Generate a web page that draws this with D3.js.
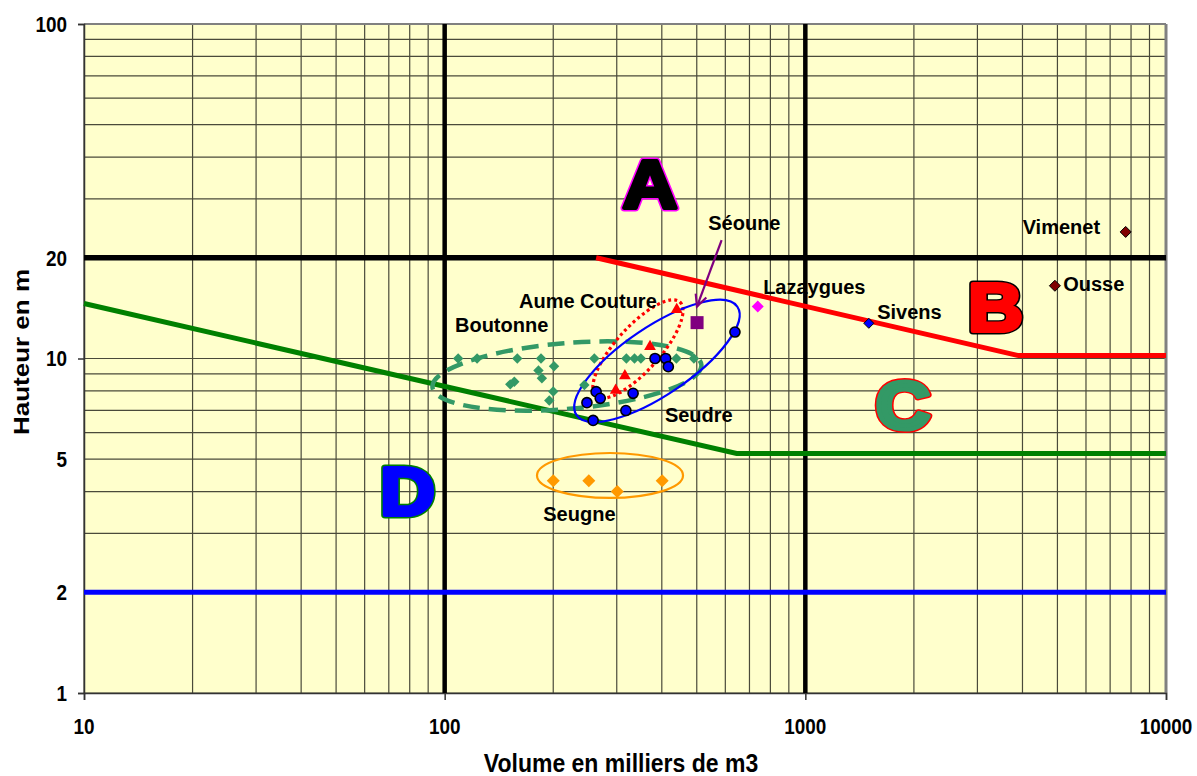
<!DOCTYPE html>
<html><head><meta charset="utf-8">
<script src="https://cdn.jsdelivr.net/npm/d3@7"></script>
<style>
body{margin:0;background:#fff;}
svg text{font-family:"Liberation Sans",Arial,sans-serif;font-weight:bold;fill:#000;}
</style></head><body>
<svg id="chart" width="1197" height="776"></svg>
<script>
// ---------- data ----------
const xTickValues = [10, 100, 1000, 10000];
const yTickValues = [1, 2, 5, 10, 20, 100];

const boutonneX = [109, 123, 159, 185, 260, 319, 336, 350, 439, 491, 201, 182, 186, 156, 152, 200, 195, 244];
const boutonneY = [10, 10, 10, 10, 10, 10, 10, 10, 10, 10, 9.48, 9.21, 8.73, 8.52, 8.37, 7.97, 7.49, 8.33];
const seudreX = [258, 248, 263, 270, 333, 318, 383, 410, 417, 638];
const seudreY = [6.53, 7.38, 7.96, 7.60, 7.87, 6.99, 10.0, 10.0, 9.45, 12.0];
const aumeX = [440, 371, 316, 298];
const aumeY = [14.0, 10.85, 8.87, 8.03];
const seugneX = [200, 251, 301, 401];
const seugneY = [4.31, 4.31, 4.0, 4.31];
const seouneX = [501], seouneY = [12.8];
const lazayguesX = [738], lazayguesY = [14.3];
const sivensX = [1500], sivensY = [12.74];
const ousseX = [4920], ousseY = [16.5];
const vimenetX = [7730], vimenetY = [23.9];

// limit lines
const line20X = [10, 10000], line20Y = [20, 20];
const vol100X = [100, 100], vol100Y = [1, 100];
const vol1000X = [1000, 1000], vol1000Y = [1, 100];
const redX = [263, 3900, 10000], redY = [20, 10.2, 10.2];
const greenX = [10, 645, 10000], greenY = [14.6, 5.2, 5.2];
const blueX = [10, 10000], blueY = [2, 2];

// annotation ellipses (major axis ends in data units, minor/major ratio)
const ellipseNames = ["Boutonne", "Aume Couture", "Seudre", "Seugne"];
const ellipseX1 = [92.5, 262.7, 232.1, 180.3];
const ellipseY1 = [8.21, 7.73, 6.77, 4.47];
const ellipseX2 = [515, 449, 648, 458];
const ellipseY2 = [9.57, 14.75, 14.28, 4.47];
const ellipseRatio = [0.244, 0.35, 0.35, 0.308];

// labels (left/baseline anchor in data units)
const labelTexts = ["Boutonne", "Aume Couture", "Seudre", "Seugne", "Séoune", "Lazaygues", "Sivens", "Ousse", "Vimenet"];
const labelX = [106.8, 160.7, 408, 187.7, 538, 764, 1582, 5188, 4004];
const labelY = [11.98, 14.13, 6.47, 3.27, 24.2, 15.6, 13.1, 15.95, 23.57];

// zone letters (centre/baseline in data units)
const zoneTexts = ["A", "B", "C", "D"];
const zoneX = [371, 3365, 1865, 78.9];
const zoneY = [28.2, 12.1, 6.15, 3.41];

// arrow Séoune
const arrowX = [586, 500.6], arrowY = [22.6, 14.3];

// ---------- drawing ----------
const svg = d3.select("#chart");
const L = 84, R = 1166, T = 24, B = 693;
const x = d3.scaleLog().domain([10, 10000]).range([L, R]);
const y = d3.scaleLog().domain([1, 100]).range([B, T]);

svg.append("rect").attr("x", L).attr("y", T).attr("width", R - L).attr("height", B - T).attr("fill", "#FFFFCC");

// grid
const g = svg.append("g");
g.selectAll(".vg").data(x.ticks()).join("line")
  .attr("x1", d => x(d)).attr("x2", d => x(d)).attr("y1", T).attr("y2", B)
  .attr("stroke", "#4a4a3a").attr("stroke-width", 1.2);
g.selectAll(".hg").data(y.ticks()).join("line")
  .attr("y1", d => y(d)).attr("y2", d => y(d)).attr("x1", L).attr("x2", R)
  .attr("stroke", "#4a4a3a").attr("stroke-width", 1.2);

// plot border
svg.append("line").attr("x1", L).attr("x2", R).attr("y1", T).attr("y2", T).attr("stroke", "#808080").attr("stroke-width", 2);
svg.append("line").attr("x1", R).attr("x2", R).attr("y1", T).attr("y2", B).attr("stroke", "#808080").attr("stroke-width", 3);

// axes
const yAxis = d3.axisLeft(y).tickValues([1, 10, 100]).tickSize(6).tickFormat("");
svg.append("g").attr("transform", `translate(${L},0)`).call(yAxis)
  .call(s => s.selectAll("path,line").attr("stroke", "#333").attr("stroke-width", 1.5));
const xAxis = d3.axisBottom(x).tickValues(xTickValues).tickSize(7).tickFormat("");
svg.append("g").attr("transform", `translate(0,${B})`).call(xAxis)
  .call(s => s.selectAll("path,line").attr("stroke", "#333").attr("stroke-width", 1.5));

svg.selectAll(".ylab").data(yTickValues).join("text")
  .attr("transform", d => `translate(67,${y(d)}) scale(0.86,1)`).attr("dy", "0.36em").attr("text-anchor", "end")
  .attr("font-size", 22).text(d => d);
svg.selectAll(".xlab").data(xTickValues).join("text")
  .attr("transform", d => `translate(${x(d)},734) scale(0.86,1)`).attr("text-anchor", "middle")
  .attr("font-size", 22).text(d => d);

svg.append("text").attr("transform", "translate(621,772) scale(0.92,1)").attr("text-anchor", "middle").attr("font-size", 25)
  .text("Volume en milliers de m3");
svg.append("text").attr("transform", "translate(29,352) rotate(-90) scale(1,0.86)").attr("text-anchor", "middle").attr("font-size", 26)
  .text("Hauteur en m");

// limit lines
const line = d3.line().x(d => x(d[0])).y(d => y(d[1]));
function drawLine(xs, ys, color, w) {
  svg.append("path").datum(xs.map((v, i) => [v, ys[i]])).attr("d", line)
    .attr("fill", "none").attr("stroke", color).attr("stroke-width", w);
}
drawLine(vol100X, vol100Y, "#000", 4.5);
drawLine(vol1000X, vol1000Y, "#000", 4.5);
drawLine(line20X, line20Y, "#000", 5.5);
drawLine(blueX, blueY, "#0000FF", 5);
drawLine(greenX, greenY, "#008000", 5);
drawLine(redX, redY, "#FF0000", 5);

// ellipses
const ellStyles = [
  {stroke: "#339966", w: 4.5, dash: "17,9"},
  {stroke: "#FF0000", w: 3.2, dash: "3,3"},
  {stroke: "#0000FF", w: 2.2, dash: null},
  {stroke: "#FF9900", w: 2.2, dash: null}
];
ellipseNames.forEach((n, i) => {
  const x1 = x(ellipseX1[i]), y1 = y(ellipseY1[i]), x2 = x(ellipseX2[i]), y2 = y(ellipseY2[i]);
  const cx = (x1 + x2) / 2, cy = (y1 + y2) / 2;
  const a = Math.hypot(x2 - x1, y2 - y1) / 2;
  const ang = Math.atan2(y2 - y1, x2 - x1) * 180 / Math.PI;
  const st = ellStyles[i];
  svg.append("ellipse").attr("cx", cx).attr("cy", cy).attr("rx", a).attr("ry", a * ellipseRatio[i])
    .attr("transform", `rotate(${ang},${cx},${cy})`)
    .attr("fill", "none").attr("stroke", st.stroke).attr("stroke-width", st.w)
    .attr("stroke-dasharray", st.dash);
});

// markers
function diamond(r) { return `M0,${-r}L${r},0L0,${r}L${-r},0Z`; }
function drawPts(xs, ys, pathFn, fill, stroke, sw) {
  svg.append("g").selectAll("path").data(xs.map((v, i) => [v, ys[i]])).join("path")
    .attr("transform", d => `translate(${x(d[0])},${y(d[1])})`)
    .attr("d", pathFn).attr("fill", fill).attr("stroke", stroke).attr("stroke-width", sw);
}
drawPts(boutonneX, boutonneY, diamond(5.2), "#339966", "none", 0);
drawPts(aumeX, aumeY, d3.symbol(d3.symbolTriangle, 60)(), "#FF0000", "none", 0);
drawPts(seudreX, seudreY, d3.symbol(d3.symbolCircle, 80)(), "#0000FF", "#000", 1.6);
drawPts(seugneX, seugneY, diamond(6.5), "#FF9900", "none", 0);
drawPts(seouneX, seouneY, "M-6.5,-6.5h13v13h-13Z", "#800080", "none", 0);
drawPts(lazayguesX, lazayguesY, diamond(6), "#FF00FF", "none", 0);
drawPts(sivensX, sivensY, diamond(5), "#0000FF", "#000", 1);
drawPts(ousseX, ousseY, diamond(5.5), "#800000", "#000", 1);
drawPts(vimenetX, vimenetY, diamond(5.5), "#800000", "#000", 1);

// labels
svg.selectAll(".lab").data(labelTexts).join("text")
  .attr("x", (d, i) => x(labelX[i])).attr("y", (d, i) => y(labelY[i]))
  .attr("font-size", 20).text(d => d);

// arrow
const ax1 = x(arrowX[0]), ay1 = y(arrowY[0]), ax2 = x(arrowX[1]), ay2 = y(arrowY[1]);
svg.append("line").attr("x1", ax1).attr("y1", ay1).attr("x2", ax2).attr("y2", ay2)
  .attr("stroke", "#800080").attr("stroke-width", 2.2);
{
  const ang = Math.atan2(ay2 - ay1, ax2 - ax1);
  const hl = 13, spread = 0.45;
  const p1 = [ax2 - hl * Math.cos(ang - spread), ay2 - hl * Math.sin(ang - spread)];
  const p2 = [ax2 - hl * Math.cos(ang + spread), ay2 - hl * Math.sin(ang + spread)];
  svg.append("path").attr("d", `M${p1}L${ax2},${ay2}L${p2}`).attr("fill", "none")
    .attr("stroke", "#800080").attr("stroke-width", 2.2);
}

// zone letters
const zoneFill = ["#000000", "#FF0000", "#339966", "#0000FF"];
const zoneOutline = ["#FF00FF", "#000000", "#FF0000", "#008000"];
zoneTexts.forEach((t, i) => {
  const gx = x(zoneX[i]), gy = y(zoneY[i]);
  const gg = svg.append("g").attr("transform", `translate(${gx},${gy}) scale(1.12,1)`);
  gg.append("text").attr("text-anchor", "middle").attr("font-size", 68)
    .attr("stroke", zoneOutline[i]).attr("stroke-width", 7).attr("stroke-linejoin", "round")
    .style("fill", zoneOutline[i]).text(t);
  gg.append("text").attr("text-anchor", "middle").attr("font-size", 68)
    .attr("stroke", zoneFill[i]).attr("stroke-width", 4.2).attr("stroke-linejoin", "round")
    .style("fill", zoneFill[i]).text(t);
});
</script>
</body></html>
